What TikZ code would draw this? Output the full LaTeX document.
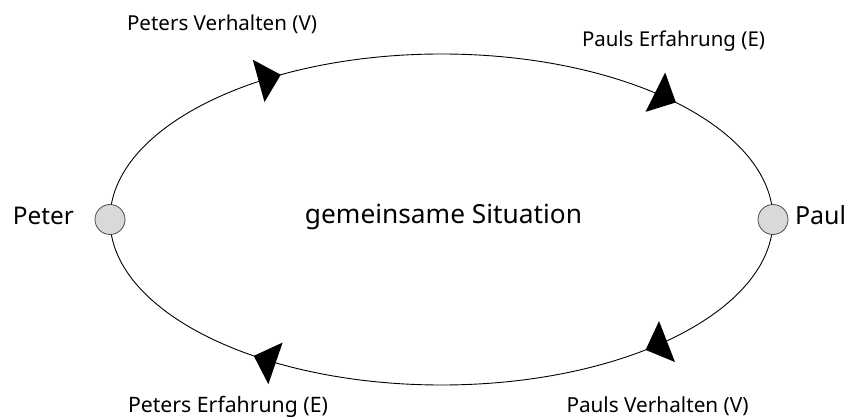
\documentclass[tikz,border=0pt]{standalone}
\usepackage{fontspec}
\setmainfont{Noto Sans}
\usepackage{graphicx}
\begin{document}
\begin{tikzpicture}[x=1pt,y=1pt]
\useasboundingbox (0,0) rectangle (853,-419);
\tikzset{
 lab/.style={font=\fontsize{20}{24}\selectfont, anchor=base, inner sep=0pt},
 big/.style={font=\fontsize{26}{30}\selectfont, anchor=base, inner sep=0pt},
 person/.style={circle, draw=black!70, fill=black!15, minimum size=30pt, inner sep=0pt, line width=0.8pt},
 loopline/.style={line width=0.9pt, black}
}
\coordinate (c) at (441.5,-219.5);
\draw[loopline] (c) ellipse [x radius=331.5, y radius=165.5];
\foreach \t in {119,45,-52,-124.5}{
  \pgfmathsetmacro\ang{atan2(-165.5*cos(\t), 331.5*sin(\t))}
  \fill[shift={({441.5+331.5*cos(\t)},{-219.5+165.5*sin(\t)})}, rotate=\ang]
    (0,0) -- (-23,22) -- (-23,-22) -- cycle;
}
\node[person] (peter) at (110,-219.5) {};
\node[person] (paul) at (773,-219.5) {};
\node[big] (peterlab) at (43.5,-225) {\resizebox{61pt}{!}{Peter}};
\node[big] (paullab) at (820.5,-225) {\resizebox{51pt}{!}{Paul}};
\node[big] (sit) at (443.5,-224) {\resizebox{277pt}{!}{gemeinsame Situation}};
\node[lab] (pv) at (222,-31) {\resizebox{190pt}{!}{Peters Verhalten (V)}};
\node[lab] (pe) at (673.5,-47) {\resizebox{183pt}{!}{Pauls Erfahrung (E)}};
\node[lab] (pte) at (228,-412) {\resizebox{200pt}{!}{Peters Erfahrung (E)}};
\node[lab] (plv) at (657.5,-412) {\resizebox{182pt}{!}{Pauls Verhalten (V)}};
\end{tikzpicture}
\end{document}
